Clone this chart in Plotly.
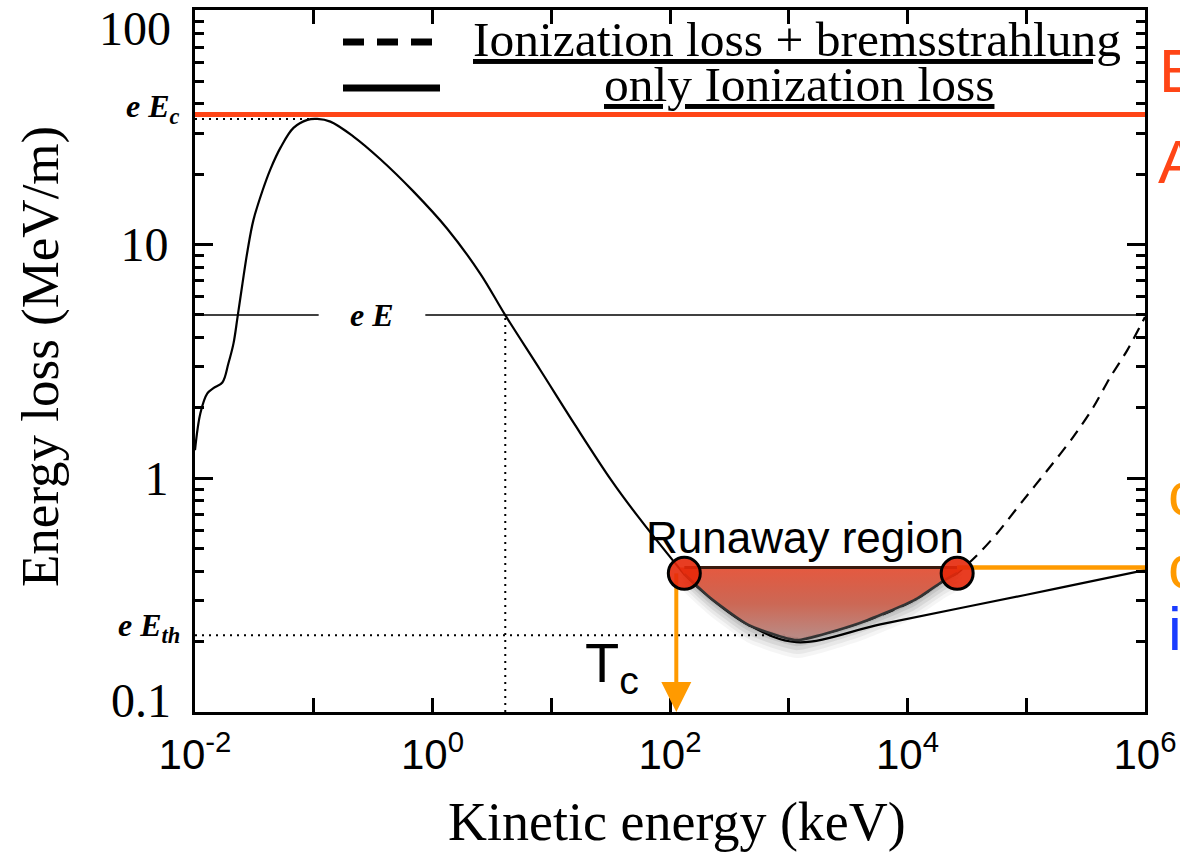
import numpy as np
import plotly.graph_objects as go

# ---------------- data ----------------
# Kinetic energy (keV) / energy loss (MeV/m), ionization loss only (solid curve)
ion_x = [0.01, 0.0111, 0.0127, 0.0143, 0.0170, 0.0191, 0.0211, 0.0228, 0.0251, 0.0277,
         0.0310, 0.0370, 0.0433, 0.0525, 0.0675, 0.0885, 0.107, 0.138, 0.216, 0.364,
         0.690, 1.33, 2.53, 4.11, 8.11, 16.0, 32.1, 53.1, 109, 132,
         223, 457, 1160, 5900, 31600, 178000, 1e6]
ion_y = [1.32, 1.90, 2.31, 2.43, 2.57, 3.10, 3.78, 4.88, 6.81, 9.42,
         12.7, 17.0, 21.1, 26.0, 31.6, 34.2, 34.5, 33.6, 29.0, 23.2,
         16.9, 11.7, 7.50, 4.98, 2.90, 1.68, 0.98, 0.692, 0.437, 0.389,
         0.305, 0.236, 0.199, 0.237, 0.282, 0.337, 0.405]

# ionization loss + bremsstrahlung (dashed curve)
brem_x = [457, 1160, 3930, 11400, 20400, 26200, 38600, 56900, 94200, 150000,
          248000, 366000, 508000, 706000, 1e6]
brem_y = [0.236, 0.207, 0.240, 0.301, 0.366, 0.393, 0.469, 0.582, 0.805, 1.08,
          1.50, 2.01, 2.70, 3.52, 4.9]

# reference levels
eEc_level = 36.0        # red line
eEc_peak = 34.5         # dotted line to the peak
peak_x = 0.107
eE_level = 5.0
eE_cross_x = 4.1
eEth_level = 0.213
eEth_end_x = 1000
eE_gap = [0.11, 0.87]   # gap in the eE line for its label
eE_label_x = 0.31

# runaway region
run_level = 0.415
region_x = [121, 132, 223, 457, 1160, 3930, 11400, 20400, 26200, 29500]
region_low = [0.415, 0.389, 0.305, 0.236, 0.203, 0.240, 0.301, 0.366, 0.393, 0.415]
marker_x = [132, 26200]
marker_y = [0.392, 0.392]
Tc_x = 113

x_tickvals = [1e-2, 1, 1e2, 1e4, 1e6]
x_ticktext = ["10<sup>-2</sup>", "10<sup>0</sup>", "10<sup>2</sup>", "10<sup>4</sup>", "10<sup>6</sup>"]
x_minor = [1e-1, 1e1, 1e3, 1e5]
y_tickvals = [0.1, 1, 10, 100]
y_ticktext = ["0.1", "1", "10", "100"]
y_minor = [m * d for d in [0.1, 1, 10] for m in range(2, 10)]

SERIF = "Liberation Serif"
SANS = "Liberation Sans"
RED = "#FF4516"
ORANGE = "#FF9A00"

# pixel -> paper helpers for decorations (plot area 195..1145 x 10..712)
L, R, T, B = 195, 1145, 10, 712
def px(xp):
    return (xp - L) / (R - L)
def py(yp):
    return (B - yp) / (B - T)

fig = go.Figure()

# eE line (with gap for label)
fig.add_trace(go.Scatter(x=[ion_x[0], eE_gap[0]], y=[eE_level, eE_level], mode="lines",
                         line=dict(color="black", width=1.6), hoverinfo="skip"))
fig.add_trace(go.Scatter(x=[eE_gap[1], ion_x[-1]], y=[eE_level, eE_level], mode="lines",
                         line=dict(color="black", width=1.6), hoverinfo="skip"))
# dotted guides
dot = dict(color="black", width=2, dash="2px,5px")
fig.add_trace(go.Scatter(x=[ion_x[0], peak_x], y=[eEc_peak, eEc_peak], mode="lines", line=dot))
fig.add_trace(go.Scatter(x=[eE_cross_x, eE_cross_x], y=[0.1, eE_level], mode="lines", line=dot))
fig.add_trace(go.Scatter(x=[ion_x[0], eEth_end_x], y=[eEth_level, eEth_level], mode="lines", line=dot))

# curves
fig.add_trace(go.Scatter(x=ion_x, y=ion_y, mode="lines",
                         line=dict(color="black", width=2.2, shape="spline", smoothing=1.0)))
fig.add_trace(go.Scatter(x=brem_x, y=brem_y, mode="lines",
                         line=dict(color="black", width=2.2, dash="12px,8px", shape="spline", smoothing=0.8)))

# red eEc line
fig.add_trace(go.Scatter(x=[ion_x[0], ion_x[-1]], y=[eEc_level, eEc_level], mode="lines",
                         line=dict(color=RED, width=5)))

# runaway region: soft shadow
poly_x = list(region_x) + list(region_x[::-1])
for k, a in [(18, 0.04), (14, 0.05), (10, 0.07), (6, 0.08), (3, 0.08)]:
    f = 10 ** (-k / 234.0)
    poly_y = [v * f for v in region_low] + [run_level * f] * len(region_x)
    fig.add_trace(go.Scatter(x=poly_x, y=poly_y, mode="lines", fill="toself",
                             line=dict(width=0, shape="spline", smoothing=0.5),
                             fillcolor=f"rgba(0,0,0,{a})"))
# region fill with gradient
poly_y = list(region_low) + [run_level] * len(region_x)
fig.add_trace(go.Scatter(x=poly_x, y=poly_y, mode="lines", fill="toself",
                         line=dict(width=0, shape="spline", smoothing=0.5),
                         fillgradient=dict(type="vertical",
                                           colorscale=[[0, "rgba(185,140,135,0.95)"],
                                                       [0.5, "rgba(205,100,80,0.95)"],
                                                       [1, "rgba(228,84,58,0.97)"]])))
# region outlines
fig.add_trace(go.Scatter(x=region_x[1:-1], y=region_low[1:-1], mode="lines",
                         line=dict(color="#333333", width=2.6, shape="spline", smoothing=0.5)))
fig.add_trace(go.Scatter(x=[marker_x[0], marker_x[1]], y=[run_level, run_level], mode="lines",
                         line=dict(color="#3a1a0e", width=3)))
# orange horizontal line
fig.add_trace(go.Scatter(x=[marker_x[1], ion_x[-1]], y=[run_level, run_level], mode="lines",
                         line=dict(color=ORANGE, width=4.5)))
# orange vertical to Tc
fig.add_trace(go.Scatter(x=[Tc_x, Tc_x], y=[marker_y[0], 0.118], mode="lines",
                         line=dict(color=ORANGE, width=4)))
# markers
fig.add_trace(go.Scatter(x=marker_x, y=marker_y, mode="markers",
                         marker=dict(size=32, color="rgba(230,40,10,0.9)",
                                     line=dict(color="black", width=3))))

ann = []
# arrowhead of Tc arrow
ann.append(dict(x=np.log10(Tc_x), y=np.log10(0.1), xref="x", yref="y",
                ax=np.log10(Tc_x), ay=np.log10(0.13), axref="x", ayref="y",
                text="", showarrow=True, arrowhead=2, arrowsize=1.5, arrowwidth=4,
                arrowcolor=ORANGE))
# y tick labels at the ends of the axis (shifted inward as in the picture)
ann.append(dict(x=px(173), y=py(28), xref="paper", yref="paper", xanchor="right", yanchor="middle",
                text=y_ticktext[3], showarrow=False, font=dict(family=SERIF, size=48, color="black")))
ann.append(dict(x=px(173), y=py(700), xref="paper", yref="paper", xanchor="right", yanchor="middle",
                text=y_ticktext[0], showarrow=False, font=dict(family=SERIF, size=48, color="black")))
# texts
lab = dict(family=SERIF, size=32, color="black")
ann.append(dict(x=px(182), y=py(108), xref="paper", yref="paper", xanchor="right", yanchor="middle",
                text="<b><i>e E<sub>c</sub></i></b>", showarrow=False, font=lab))
ann.append(dict(x=px(182), y=py(627), xref="paper", yref="paper", xanchor="right", yanchor="middle",
                text="<b><i>e E<sub>th</sub></i></b>", showarrow=False, font=lab))
ann.append(dict(x=np.log10(eE_label_x), y=np.log10(eE_level), xref="x", yref="y",
                xanchor="center", yanchor="middle",
                text="<b><i>e E</i></b>", showarrow=False, font=lab))
ann.append(dict(x=px(805), y=py(537), xref="paper", yref="paper", xanchor="center", yanchor="middle",
                text="Runaway region", showarrow=False, font=dict(family=SANS, size=44, color="black")))
ann.append(dict(x=px(612), y=py(666), xref="paper", yref="paper", xanchor="center", yanchor="middle",
                text="T<sub>c</sub>", showarrow=False, font=dict(family=SANS, size=56, color="black")))
# legend texts
ann.append(dict(x=px(1123), y=py(40), xref="paper", yref="paper", xanchor="right", yanchor="middle",
                text="<u>Ionization loss + bremsstrahlung</u>", showarrow=False,
                font=dict(family=SERIF, size=49.5, color="black")))
ann.append(dict(x=px(996), y=py(84), xref="paper", yref="paper", xanchor="right", yanchor="middle",
                text="<u>only Ionization loss</u>", showarrow=False,
                font=dict(family=SERIF, size=49.5, color="black")))
# axis titles
ann.append(dict(x=px(677), y=py(822), xref="paper", yref="paper", xanchor="center", yanchor="middle",
                text="Kinetic energy (keV)", showarrow=False,
                font=dict(family=SERIF, size=54, color="black")))
ann.append(dict(x=px(40), y=py(357), xref="paper", yref="paper", xanchor="center", yanchor="middle",
                textangle=-90, text="Energy loss (MeV/m)", showarrow=False,
                font=dict(family=SERIF, size=53, color="black")))
# clipped slide text at the right edge
for t, xx, yy, c in [("E", 1157, 70, RED), ("A", 1156, 162, RED),
                     ("c", 1166, 493, ORANGE), ("c", 1166, 566, ORANGE), ("i", 1166, 628, "#1a3cff")]:
    ann.append(dict(x=px(xx), y=py(yy), xref="paper", yref="paper", xanchor="left", yanchor="middle",
                    text=t, showarrow=False, font=dict(family=SANS, size=62, color=c)))

shapes = [
    dict(type="line", xref="paper", yref="paper", x0=px(343), x1=px(437), y0=py(42), y1=py(42),
         line=dict(color="black", width=7, dash="21px,13px")),
    dict(type="line", xref="paper", yref="paper", x0=px(343), x1=px(440), y0=py(88), y1=py(88),
         line=dict(color="black", width=7)),
]

fig.update_layout(
    width=1180, height=852,
    margin=dict(l=L, r=1180 - R, t=T, b=852 - B, autoexpand=False),
    paper_bgcolor="white", plot_bgcolor="white",
    showlegend=False,
    annotations=ann, shapes=shapes,
    xaxis=dict(type="log", range=[-2, 6], showgrid=False, zeroline=False,
               showline=True, linecolor="black", linewidth=3, mirror="ticks",
               ticks="inside", ticklen=14, tickwidth=2.5, tickcolor="black",
               tickvals=x_tickvals, ticktext=x_ticktext, ticklabelstandoff=4,
               ticklabeloverflow="allow",
               tickfont=dict(family=SANS, size=42, color="black"),
               minor=dict(tickvals=x_minor, ticks="inside", ticklen=14, tickwidth=2.5, tickcolor="black"),
               automargin=False),
    yaxis=dict(type="log", range=[-1, 2.004], showgrid=False, zeroline=False,
               showline=True, linecolor="black", linewidth=3, mirror="ticks",
               ticks="inside", ticklen=18, tickwidth=2.5, tickcolor="black",
               tickvals=y_tickvals, ticktext=["", y_ticktext[1], y_ticktext[2], ""],
               ticklabelstandoff=14, ticklabeloverflow="allow",
               tickfont=dict(family=SERIF, size=48, color="black"),
               minor=dict(tickvals=y_minor, ticks="inside", ticklen=9, tickwidth=2.5, tickcolor="black"),
               automargin=False),
)

fig.write_html("out.html")
